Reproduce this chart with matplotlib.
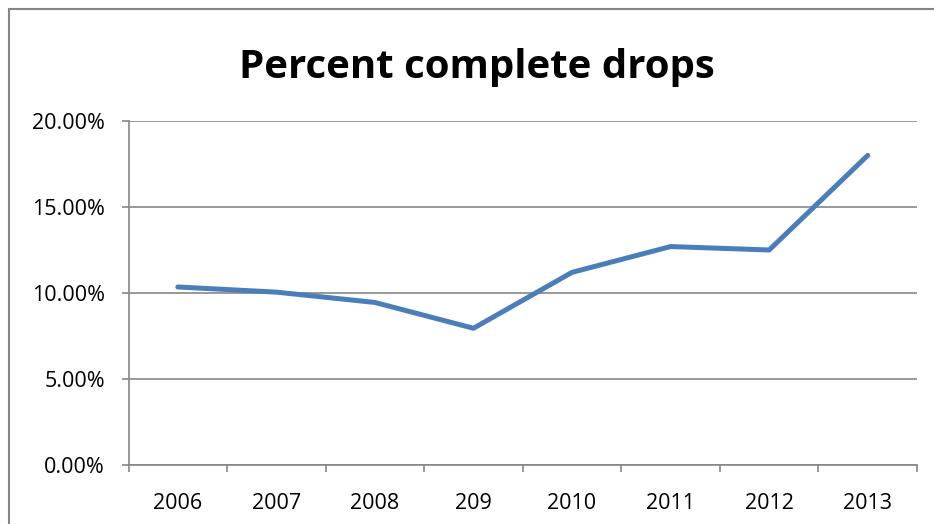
import numpy as np
import matplotlib
matplotlib.use("Agg")
import matplotlib.pyplot as plt
from matplotlib.patches import Rectangle
from matplotlib.ticker import FuncFormatter, MultipleLocator

years = ["2006", "2007", "2008", "209", "2010", "2011", "2012", "2013"]
pct = [10.35, 10.05, 9.45, 7.95, 11.2, 12.7, 12.5, 18.0]

plt.rcParams['font.family'] = ['Open Sans', 'DejaVu Sans']
grey = '#868686'

fig = plt.figure(figsize=(9.34, 5.24), dpi=100)
ax = fig.add_axes([0.1376, 0.1126, 0.9818 - 0.1376, 0.7691 - 0.1126])

# outer chart border (cut off at right and bottom in the original)
fig.patches.append(Rectangle((9 / 934, -0.1), 1.2, (524 - 9) / 524 + 0.1,
                             transform=fig.transFigure, fill=False,
                             edgecolor=grey, linewidth=1.5))

x = np.arange(len(years))
ax.plot(x, pct, color='#4A7EBB', linewidth=3.6, solid_capstyle='round')

ax.set_xlim(-0.5, len(years) - 0.5)
ax.set_ylim(0, 20)
ax.yaxis.set_major_locator(MultipleLocator(5))
ax.yaxis.set_major_formatter(FuncFormatter(lambda v, p: f"{v:.2f}%"))
ax.grid(axis='y', color=grey, linewidth=1.2)
ax.set_axisbelow(True)

ax.set_xticks(x)
ax.set_xticklabels(years)
ax.set_xticks(np.arange(-0.5, len(years)), minor=True)
ax.tick_params(axis='x', which='major', length=0, pad=20, labelsize=15.5)
ax.tick_params(axis='x', which='minor', length=5, width=1.2, color=grey)
ax.tick_params(axis='y', length=5, width=1.2, color=grey, pad=12, labelsize=15.5)

for s in ['top', 'right']:
    ax.spines[s].set_visible(False)
for s in ['left', 'bottom']:
    ax.spines[s].set_color(grey)
    ax.spines[s].set_linewidth(1.2)

fig.text(0.511, 1 - 78 / 524, "Percent complete drops", ha='center', va='baseline',
         fontsize=29, fontweight='bold')

fig.savefig("out.png", dpi=100)
